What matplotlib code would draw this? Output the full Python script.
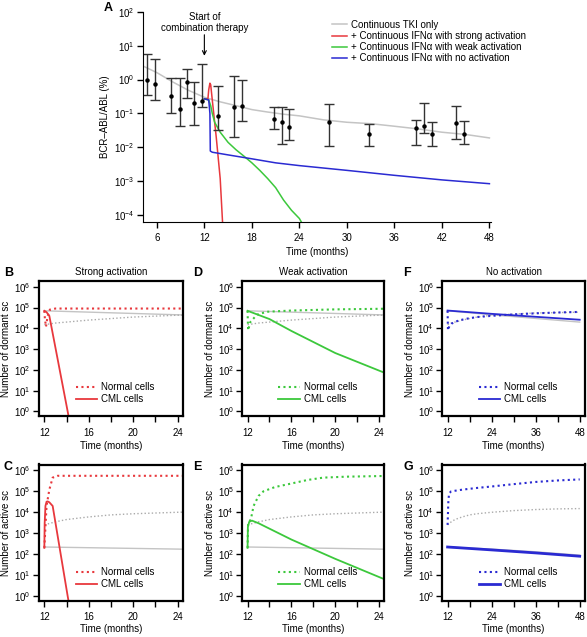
import matplotlib.pyplot as plt
import matplotlib.ticker as mticker
import numpy as np

RED = "#e8383d"
GREEN = "#3cc83c"
BLUE = "#2a2ad2"
GRAY = "#c4c4c4"
DGRAY = "#aaaaaa"
EBAR = "#333333"

# ---- panel A: BCR-ABL/ABL ratio ----
pt_t = [4.75, 5.8, 7.8, 8.9, 9.75, 10.75, 11.75, 13.75, 15.75, 16.75, 20.75, 21.75,
        22.75, 27.75, 32.75, 38.75, 39.75, 40.7, 43.75, 44.75]
pt_v = [1.0, 0.74, 0.32, 0.14, 0.87, 0.21, 0.23, 0.083, 0.155, 0.163, 0.068, 0.055,
        0.04, 0.055, 0.024, 0.037, 0.042, 0.024, 0.051, 0.024]
pt_hi = [5.5, 3.9, 1.13, 1.13, 2.1, 0.87, 2.8, 0.66, 1.3, 1.0, 0.15, 0.16,
         0.14, 0.195, 0.05, 0.066, 0.21, 0.057, 0.17, 0.062]
pt_lo = [0.36, 0.25, 0.1, 0.044, 0.29, 0.047, 0.15, 0.032, 0.02, 0.059, 0.034, 0.013,
         0.016, 0.011, 0.011, 0.0115, 0.027, 0.011, 0.018, 0.013]

tki_t = [4.25, 6, 8, 10, 12, 14, 16, 18, 20, 22, 24, 27, 30, 33, 36, 39, 42, 45, 48]
tki_v = [2.5, 1.6, 0.85, 0.48, 0.3, 0.22, 0.17, 0.13, 0.11, 0.095, 0.085, 0.065,
         0.055, 0.05, 0.042, 0.035, 0.028, 0.024, 0.019]
strong_t = [12, 12.45, 12.55, 12.7, 12.8, 13.0, 13.5, 14.0, 14.3]
strong_v = [0.27, 0.27, 0.5, 0.78, 0.7, 0.25, 0.02, 0.0012, 0.00006]
weak_t = [12, 12.55, 12.8, 13.0, 13.3, 14, 15, 16, 17, 18, 19, 20, 21, 22, 23, 24, 24.3]
weak_v = [0.27, 0.25, 0.17, 0.1, 0.055, 0.028, 0.014, 0.0085, 0.0055, 0.0035, 0.0021,
          0.0012, 0.00065, 0.00028, 0.00014, 0.00008, 0.00006]
none_t = [12, 12.55, 12.7, 12.75, 13, 15, 18, 21, 24, 30, 36, 42, 48]
none_v = [0.27, 0.25, 0.1, 0.0078, 0.0072, 0.006, 0.0046, 0.0035, 0.0029, 0.0021,
          0.0015, 0.0011, 0.00085]

legend_labels = ["Continuous TKI only",
                 "+ Continuous IFN\u03b1 with strong activation",
                 "+ Continuous IFN\u03b1 with weak activation",
                 "+ Continuous IFN\u03b1 with no activation"]

# ---- small panels: TKI-only reference (gray) ----
ref_dorm_cml_t = [12, 24, 36, 48]
ref_dorm_cml_v = [7e4, 4.5e4, 3e4, 2e4]
ref_dorm_nor_t = [12, 13, 16, 20, 24, 36, 48]
ref_dorm_nor_v = [1.5e4, 1.8e4, 2.5e4, 3.5e4, 4.3e4, 5.5e4, 6e4]
ref_act_cml_t = [12, 24, 36, 48]
ref_act_cml_v = [220, 175, 130, 90]
ref_act_nor_t = [12, 13, 14, 16, 18, 20, 24, 30, 36, 42, 48]
ref_act_nor_v = [2.5e3, 3.5e3, 4.5e3, 6e3, 7.5e3, 8.5e3, 1e4, 1.2e4, 1.35e4, 1.45e4, 1.5e4]

# strong activation (red)
s_dorm_nor_t = [12, 12.05, 12.15, 12.3, 12.5, 13, 24.5]
s_dorm_nor_v = [7e4, 3e4, 1.2e4, 4e4, 8e4, 9e4, 9e4]
s_dorm_cml_t = [12, 12.2, 12.45, 14.1, 14.2]
s_dorm_cml_v = [7e4, 6e4, 4e4, 1, 0.5]
s_act_nor_t = [12, 12.1, 12.2, 12.45, 12.75, 13.2, 24.5]
s_act_nor_v = [200, 2e3, 2e4, 1.2e5, 4.5e5, 5.5e5, 5.5e5]
s_act_cml_t = [12, 12.03, 12.1, 12.2, 12.3, 12.45, 12.75, 14.1, 14.2]
s_act_cml_v = [200, 3e3, 2e4, 3.2e4, 3.3e4, 3e4, 2e4, 1, 0.5]

# weak activation (green)
w_dorm_nor_t = [12, 12.05, 12.25, 12.85, 13.75, 16, 20, 24.5]
w_dorm_nor_v = [7e4, 8e3, 2e4, 4.5e4, 6.3e4, 7.2e4, 8.2e4, 8.8e4]
w_dorm_cml_t = [12, 14, 16, 20, 24.3]
w_dorm_cml_v = [7e4, 2.8e4, 7.5e3, 6.5e2, 80]
w_act_nor_t = [12, 12.05, 12.3, 12.55, 13, 13.45, 14.5, 15.9, 17.5, 18.9, 21, 24.5]
w_act_nor_v = [200, 3e3, 4.6e3, 2e4, 6e4, 1e5, 1.6e5, 2.3e5, 3.5e5, 4.5e5, 5e5, 5.4e5]
w_act_cml_t = [12, 12.03, 12.15, 12.4, 13, 16, 20, 24.3]
w_act_cml_v = [200, 2e3, 3.5e3, 4e3, 3e3, 5e2, 60, 7]

# no activation (blue)
n_dorm_nor_t = [12, 12.1, 12.5, 13.1, 15, 17.6, 20, 24, 30, 36, 42, 48]
n_dorm_nor_v = [7e4, 8e3, 1.3e4, 1.7e4, 2.4e4, 3e4, 3.5e4, 4e4, 4.7e4, 5.3e4, 5.8e4, 6.2e4]
n_dorm_cml_t = [12, 24, 36, 48]
n_dorm_cml_v = [7.2e4, 5e4, 3.6e4, 2.6e4]
n_act_nor_t = [12, 12.2, 12.4, 13, 16, 20, 24, 30, 36, 42, 48]
n_act_nor_v = [2.5e3, 3e4, 8e4, 1e5, 1.2e5, 1.45e5, 1.7e5, 2.2e5, 2.8e5, 3.3e5, 3.7e5]
n_act_cml_t = [12, 24, 36, 48]
n_act_cml_v = [220, 160, 115, 80]

FS = 7
plt.rcParams["font.family"] = ["Liberation Sans", "DejaVu Sans"]
plt.rcParams["font.size"] = FS
plt.rcParams["mathtext.fontset"] = "custom"
plt.rcParams["mathtext.rm"] = "Liberation Sans"

fig = plt.figure(figsize=(5.87, 6.37), dpi=100)
W, H = 587.0, 637.0


def add_ax(x0, y0, x1, y1):
    return fig.add_axes([x0 / W, 1 - y1 / H, (x1 - x0) / W, (y1 - y0) / H])


def log_ticks(ax, decades, pad=2):
    ax.set_yscale("log")
    ax.yaxis.set_major_locator(mticker.FixedLocator([10.0 ** d for d in decades]))
    ax.yaxis.set_major_formatter(mticker.LogFormatterSciNotation())
    ax.yaxis.set_minor_locator(mticker.NullLocator())
    ax.tick_params(direction="out", length=4, width=1, labelsize=FS, pad=pad)


# ---- panel A ----
ax = add_ax(143, 11.7, 491, 222)
ax.plot(tki_t, tki_v, color=GRAY, lw=1.1, label=legend_labels[0])
ax.plot(strong_t, strong_v, color=RED, lw=1.1, label=legend_labels[1])
ax.plot(weak_t, weak_v, color=GREEN, lw=1.1, label=legend_labels[2])
ax.plot(none_t, none_v, color=BLUE, lw=1.1, label=legend_labels[3])
pv = np.array(pt_v)
yerr = [pv - np.array(pt_lo), np.array(pt_hi) - pv]
ax.errorbar(pt_t, pt_v, yerr=yerr, fmt="o", ms=2.2, color="black", ecolor=EBAR,
            elinewidth=1, capsize=3.6, capthick=1)
log_ticks(ax, range(-4, 3))
ax.set_xlim(4.25, 48.2)
ax.set_ylim(10 ** -4.2, 1e2)
ax.set_xticks([6, 12, 18, 24, 30, 36, 42, 48])
ax.tick_params(axis="x", pad=4)
ax.spines["top"].set_visible(False)
ax.spines["right"].set_visible(False)
ax.set_xlabel("Time (months)", fontsize=FS, labelpad=3)
ax.set_ylabel("BCR\u2013ABL/ABL (%)", fontsize=FS, labelpad=3)
ax.annotate("", xy=(12, 10 ** 0.7), xytext=(12, 10 ** 1.32),
            arrowprops=dict(arrowstyle="->", color="black", lw=0.8,
                            shrinkA=0, shrinkB=0))
ax.text(12, 10 ** 1.68, "Start of\ncombination therapy", ha="center", va="center",
        fontsize=FS, linespacing=1.15)
fig.text(108 / W, 1 - 8 / H, "A", fontsize=9, fontweight="bold", va="center", ha="center")
ax.legend(loc="upper left", bbox_to_anchor=(327 / W, 1 - 15 / H),
          bbox_transform=fig.transFigure, frameon=False, fontsize=FS,
          handlelength=1.6, handletextpad=0.4, labelspacing=0.12, borderpad=0)

# ---- small panels ----
col_x = [(39, 183), (242.3, 384.3), (442.3, 585)]
row_y = [(281, 416), (464.5, 600.7)]
letter_dy = [-8, 2]
xlab_pad = [2.5, 1.8]
titles = ["Strong activation", "Weak activation", "No activation"]
letters = [["B", "C"], ["D", "E"], ["F", "G"]]
letter_x = [4, 193, 403]
colors = [RED, GREEN, BLUE]
series = [
    [(s_dorm_nor_t, s_dorm_nor_v, s_dorm_cml_t, s_dorm_cml_v),
     (s_act_nor_t, s_act_nor_v, s_act_cml_t, s_act_cml_v)],
    [(w_dorm_nor_t, w_dorm_nor_v, w_dorm_cml_t, w_dorm_cml_v),
     (w_act_nor_t, w_act_nor_v, w_act_cml_t, w_act_cml_v)],
    [(n_dorm_nor_t, n_dorm_nor_v, n_dorm_cml_t, n_dorm_cml_v),
     (n_act_nor_t, n_act_nor_v, n_act_cml_t, n_act_cml_v)],
]
refs = [(ref_dorm_nor_t, ref_dorm_nor_v, ref_dorm_cml_t, ref_dorm_cml_v),
        (ref_act_nor_t, ref_act_nor_v, ref_act_cml_t, ref_act_cml_v)]
ylabels = ["Number of dormant sc", "Number of active sc"]
DOT = (0, (1, 1.6))

for c in range(3):
    x0, x1 = col_x[c]
    tmax = 24 if c < 2 else 48
    for r in range(2):
        y0, y1 = row_y[r]
        ax = add_ax(x0, y0, x1, y1)
        rn_t, rn_v, rc_t, rc_v = refs[r]
        nt, nv, ct, cv = series[c][r]
        ax.plot(rc_t, rc_v, color=GRAY, lw=1.0)
        ax.plot(rn_t, rn_v, color=DGRAY, lw=1.0, ls=DOT)
        lw_cml = 2.0 if (c == 2 and r == 1) else 1.3
        ax.plot(nt, nv, color=colors[c], lw=1.5, ls=DOT, label="Normal cells")
        ax.plot(ct, cv, color=colors[c], lw=lw_cml, label="CML cells")
        log_ticks(ax, range(0, 7))
        ax.tick_params(axis="x", pad=4.5 if r == 0 else 4)
        pad = 0.04 * (tmax - 12)
        ax.set_xlim(12 - pad, tmax + pad)
        ax.set_ylim(10 ** -0.22, 10 ** 6.28)
        if tmax == 24:
            ax.set_xticks(np.arange(12, 25, 2))
            ax.set_xticklabels(["12", "", "16", "", "20", "", "24"])
        else:
            ax.set_xticks(np.arange(12, 49, 6))
            ax.set_xticklabels(["12", "", "24", "", "36", "", "48"])
        for sp in ax.spines.values():
            sp.set_linewidth(1.6)
        ax.set_xlabel("Time (months)", fontsize=FS, labelpad=xlab_pad[r])
        ax.set_ylabel(ylabels[r], fontsize=FS, labelpad=2)
        ax.legend(loc="lower left", bbox_to_anchor=(0.22, 0.05), frameon=False,
                  fontsize=FS, handlelength=2.2, handletextpad=0.4,
                  labelspacing=0.2, borderpad=0)
        if r == 0:
            ax.set_title(titles[c], fontsize=FS, pad=4)
        fig.text(letter_x[c] / W, 1 - (y0 + letter_dy[r]) / H, letters[c][r], fontsize=9,
                 fontweight="bold", va="center", ha="left")

fig.savefig("out.png", dpi=100)
